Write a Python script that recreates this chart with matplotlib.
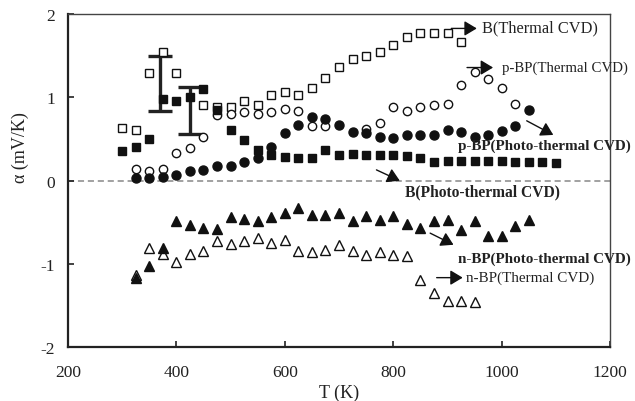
import matplotlib
matplotlib.use("Agg")
import matplotlib.pyplot as plt

plt.rcParams["font.family"] = ["Liberation Serif", "DejaVu Serif"]
plt.rcParams["axes.unicode_minus"] = False

# B (Thermal CVD) - open squares
b_th_x = [300, 325, 350, 375, 400, 450, 475, 500, 525, 550, 575, 600, 625,
          650, 675, 700, 725, 750, 775, 800, 825, 850, 875, 900, 925]
b_th_y = [0.63, 0.61, 1.30, 1.55, 1.29, 0.91, 0.88, 0.88, 0.96, 0.91, 1.03, 1.06, 1.03,
          1.11, 1.23, 1.37, 1.46, 1.50, 1.55, 1.63, 1.73, 1.77, 1.77, 1.78, 1.67]

# B (Photo-thermal CVD) - filled squares
b_ph_x = [300, 325, 350, 375, 400, 425, 450, 475, 500, 525, 550, 575, 600, 625, 650,
          675, 700, 725, 750, 775, 800, 825, 850, 875, 900, 925, 950, 975, 1000,
          1025, 1050, 1075, 1100]
b_ph_y = [0.36, 0.41, 0.50, 0.98, 0.96, 1.01, 1.10, 0.855, 0.61, 0.49, 0.37, 0.31, 0.28,
          0.27, 0.27, 0.37, 0.31, 0.32, 0.31, 0.31, 0.31, 0.30, 0.27, 0.23, 0.24, 0.24,
          0.24, 0.24, 0.24, 0.23, 0.23, 0.23, 0.21]

# p-BP (Thermal CVD) - open circles
pbp_th_x = [325, 350, 375, 400, 425, 450, 475, 500, 525, 550, 575, 600, 625, 650,
            675, 750, 775, 800, 825, 850, 875, 900, 925, 950, 975, 1000, 1025]
pbp_th_y = [0.145, 0.12, 0.145, 0.33, 0.39, 0.52, 0.79, 0.80, 0.83, 0.80, 0.83, 0.86,
            0.84, 0.66, 0.66, 0.62, 0.69, 0.89, 0.84, 0.88, 0.91, 0.92, 1.15, 1.31,
            1.22, 1.12, 0.92]

# p-BP (Photo-thermal CVD) - filled circles
pbp_ph_x = [325, 350, 375, 400, 425, 450, 475, 500, 525, 550, 575, 600, 625, 650, 675,
            700, 725, 750, 775, 800, 825, 850, 875, 900, 925, 950, 975, 1000, 1025, 1050]
pbp_ph_y = [0.03, 0.03, 0.05, 0.07, 0.12, 0.13, 0.18, 0.18, 0.23, 0.27, 0.41, 0.57,
            0.67, 0.76, 0.74, 0.67, 0.59, 0.57, 0.53, 0.51, 0.55, 0.55, 0.55, 0.61,
            0.59, 0.53, 0.55, 0.60, 0.66, 0.85]

# n-BP (Photo-thermal CVD) - filled triangles
nbp_ph_x = [325, 350, 375, 400, 425, 450, 475, 500, 525, 550, 575, 600, 625, 650, 675,
            700, 725, 750, 775, 800, 825, 850, 875, 900, 925, 950, 975, 1000, 1025, 1050]
nbp_ph_y = [-1.17, -1.02, -0.81, -0.48, -0.53, -0.57, -0.58, -0.44, -0.46, -0.48,
            -0.44, -0.39, -0.33, -0.41, -0.41, -0.39, -0.49, -0.42, -0.47, -0.42,
            -0.52, -0.57, -0.49, -0.47, -0.59, -0.48, -0.66, -0.66, -0.54, -0.47]

# n-BP (Thermal CVD) - open triangles
nbp_th_x = [325, 350, 375, 400, 425, 450, 475, 500, 525, 550, 575, 600, 625, 650, 675,
            700, 725, 750, 775, 800, 825, 850, 875, 900, 925, 950]
nbp_th_y = [-1.13, -0.81, -0.88, -0.98, -0.88, -0.85, -0.72, -0.76, -0.73, -0.69,
            -0.75, -0.71, -0.84, -0.86, -0.83, -0.77, -0.85, -0.89, -0.86, -0.89,
            -0.91, -1.19, -1.35, -1.45, -1.45, -1.46]

# error bars
err_x = [370, 425]
err_y = [1.168, 0.844]
err_e = [0.332, 0.281]

# labels: (text, bold, font size, text pos, arrow tail, arrow head)
labels = [
    ("B(Thermal CVD)", False, 11.8, (963, 1.84), (907, 1.83), (954, 1.83)),
    ("p-BP(Thermal CVD)", False, 10.7, (1000, 1.36), (936, 1.36), (984, 1.36)),
    ("p-BP(Photo-thermal CVD)", True, 10.9, (920, 0.43), (1046, 0.72), (1095, 0.55)),
    ("B(Photo-thermal CVD)", True, 11.2, (822, -0.13), (769, 0.13), (812, 0.0)),
    ("n-BP(Photo-thermal CVD)", True, 10.9, (920, -0.93), (868, -0.63), (911, -0.77)),
    ("n-BP(Thermal CVD)", False, 10.9, (935, -1.165), (880, -1.165), (928, -1.165)),
]

fig = plt.figure(figsize=(6.35, 4.02), dpi=100)
ax = fig.add_axes([0.1068, 0.134, 0.961 - 0.1068, 0.962 - 0.134])

ink = "#111111"
ax.axhline(0, color="#888888", linestyle=(0, (4, 2.5)), linewidth=1.1, zorder=1)

ax.errorbar(err_x, err_y, yerr=err_e, fmt="none", ecolor="#222222",
            elinewidth=2.4, capsize=8.4, capthick=2.4, zorder=2)

ms = 6
ax.plot(b_th_x, b_th_y, "s", ms=ms, mfc="white", mec=ink, mew=1.0, zorder=3)
ax.plot(pbp_th_x, pbp_th_y, "o", ms=ms, mfc="white", mec=ink, mew=1.0, zorder=3)
ax.plot(nbp_th_x, nbp_th_y, "^", ms=ms + 0.5, mfc="white", mec=ink, mew=1.0, zorder=3)
ax.plot(b_ph_x, b_ph_y, "s", ms=ms, mfc=ink, mec=ink, zorder=4)
ax.plot(pbp_ph_x, pbp_ph_y, "o", ms=ms + 0.5, mfc=ink, mec=ink, zorder=4)
ax.plot(nbp_ph_x, nbp_ph_y, "^", ms=ms + 1, mfc=ink, mec=ink, zorder=4)

for text, bold, size, tpos, tail, head in labels:
    ax.text(tpos[0], tpos[1], text, fontsize=size,
            fontweight="bold" if bold else "normal", ha="left", va="center",
            color="#222222", clip_on=False, zorder=5)
    ax.annotate("", xy=head, xytext=tail,
                arrowprops=dict(arrowstyle="-|>,head_length=0.75,head_width=0.45",
                                mutation_scale=10, color=ink, lw=1.0,
                                shrinkA=0, shrinkB=0),
                annotation_clip=False, zorder=5)

ax.set_xlim(200, 1200)
ax.set_ylim(-2, 2)
ax.set_xticks([200, 400, 600, 800, 1000, 1200])
ax.set_yticks([-2, -1, 0, 1, 2])
ax.tick_params(direction="in", length=4, width=1.2, labelsize=12.5, colors="#222222")
ax.tick_params(axis="x", pad=12)
ax.tick_params(axis="y", pad=9)

for side in ("left", "bottom"):
    ax.spines[side].set_linewidth(1.6)
    ax.spines[side].set_color("#222222")
for side in ("top", "right"):
    ax.spines[side].set_linewidth(1.0)
    ax.spines[side].set_color("#444444")

ax.set_xlabel("T (K)", fontsize=13, color="#222222", labelpad=3)
fig.text(20 / 635, 1 - 148 / 402, "α (mV/K)", rotation=90, ha="center", va="center",
         fontsize=13, color="#222222")

fig.savefig("out.png", dpi=100)
